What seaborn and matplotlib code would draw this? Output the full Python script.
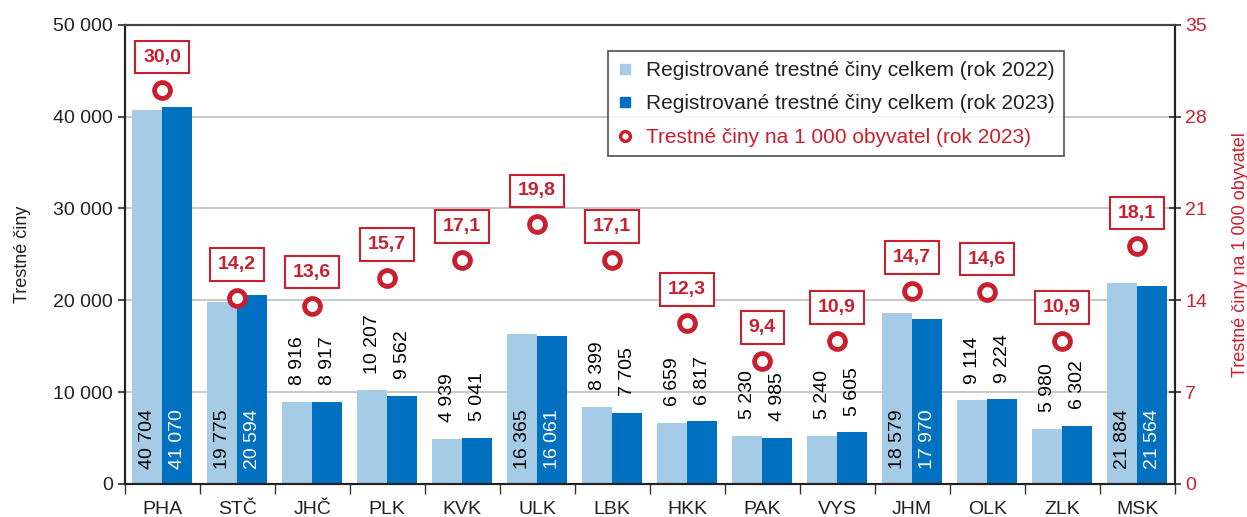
import matplotlib
matplotlib.use("Agg")
import matplotlib.pyplot as plt
from matplotlib.lines import Line2D
from matplotlib.ticker import FuncFormatter, FixedLocator
import numpy as np
import pandas as pd
import seaborn as sns

regions = ['PHA', 'STČ', 'JHČ', 'PLK', 'KVK', 'ULK', 'LBK', 'HKK', 'PAK', 'VYS', 'JHM', 'OLK', 'ZLK', 'MSK']
crimes_2022 = [40704, 19775, 8916, 10207, 4939, 16365, 8399, 6659, 5230, 5240, 18579, 9114, 5980, 21884]
crimes_2023 = [41070, 20594, 8917, 9562, 5041, 16061, 7705, 6817, 4985, 5605, 17970, 9224, 6302, 21564]
rate_2023 = [30.0, 14.2, 13.6, 15.7, 17.1, 19.8, 17.1, 12.3, 9.4, 10.9, 14.7, 14.6, 10.9, 18.1]
series_names = ['Registrované trestné činy celkem (rok 2022)',
                'Registrované trestné činy celkem (rok 2023)',
                'Trestné činy na 1 000 obyvatel (rok 2023)']

LIGHT = '#A6CBE6'
DARK = '#0070C0'
RED = '#C8202F'
TXT = '#222222'
FS = 14

sns.set_theme(style='white')
plt.rcParams['font.family'] = ['Liberation Sans', 'DejaVu Sans']

df = pd.DataFrame({
    'region': regions * 2,
    'value': crimes_2022 + crimes_2023,
    'year': ['2022'] * len(regions) + ['2023'] * len(regions),
})

fig = plt.figure(figsize=(12.47, 5.17), dpi=100)
ax = fig.add_axes([0.100, 0.064, 0.842, 0.888])

sns.barplot(data=df, x='region', y='value', hue='year', palette=[LIGHT, DARK],
            saturation=1, width=0.8, gap=0, ax=ax, legend=False, edgecolor='none')

ax.set_ylim(0, 50000)
ax.set_xlim(-0.5, len(regions) - 0.5)
ax.yaxis.set_major_locator(FixedLocator([0, 10000, 20000, 30000, 40000, 50000]))
ax.yaxis.set_major_formatter(FuncFormatter(lambda v, p: f"{int(v):,}".replace(',', ' ')))
ax.grid(axis='y', color='#BFBFBF', linewidth=1.2)
ax.set_axisbelow(True)
ax.set_xlabel('')
ax.set_ylabel('Trestné činy', fontsize=13, color=TXT, labelpad=16)
ax.tick_params(axis='y', labelsize=FS, labelcolor=TXT, direction='out', length=5, color='#333333', left=True)
ax.tick_params(axis='x', which='major', length=0, labelsize=FS, labelcolor=TXT, pad=12)
ax.set_xticks(np.arange(-0.5, len(regions), 1.0), minor=True)
ax.tick_params(axis='x', which='minor', length=7, color='#333333', direction='out', bottom=True)
for s in ['left', 'bottom', 'right']:
    ax.spines[s].set_color('#222222')
    ax.spines[s].set_linewidth(1.5)
ax.spines['top'].set_color('#444444')
ax.spines['top'].set_linewidth(1.5)

# value labels on bars
for ci, cont in enumerate(ax.containers):
    for patch in cont.patches:
        h = patch.get_height()
        xc = patch.get_x() + patch.get_width() / 2
        label = f"{int(round(h)):,}".replace(',', ' ')
        if h > 15000:
            ax.annotate(label, (xc, 0), xytext=(0, 11), textcoords='offset points',
                        rotation=90, ha='center', va='bottom', fontsize=FS,
                        color='white' if ci == 1 else 'black')
        else:
            ax.annotate(label, (xc, h), xytext=(0, 12), textcoords='offset points',
                        rotation=90, ha='center', va='bottom', fontsize=FS, color='black')

ax2 = ax.twinx()
ax2.set_ylim(0, 35)
ax2.set_yticks([0, 7, 14, 21, 28, 35])
sns.scatterplot(x=np.arange(len(regions)), y=rate_2023, ax=ax2, s=130, marker='o',
                facecolor='white', edgecolor=RED, linewidth=3.5, zorder=5, legend=False)
for i, r in enumerate(rate_2023):
    ax2.annotate(f"{r:.1f}".replace('.', ','), (i, r), xytext=(0, 24), textcoords='offset points',
                 ha='center', va='center', fontsize=FS, color=RED, fontweight='bold',
                 bbox=dict(boxstyle='square,pad=0.4', fc='white', ec=RED, lw=1.5), zorder=6)
ax2.set_ylabel('Trestné činy na 1 000 obyvatel', fontsize=13, color=RED, labelpad=18)
ax2.tick_params(axis='y', labelsize=FS, labelcolor=RED, direction='inout', length=8, color='#333333', right=True)
ax2.set_xlim(-0.5, len(regions) - 0.5)
for s in ['left', 'bottom', 'right']:
    ax2.spines[s].set_color('#222222')
    ax2.spines[s].set_linewidth(1.5)
ax2.spines['top'].set_color('#444444')
ax2.spines['top'].set_linewidth(1.5)

handles = [
    Line2D([], [], linestyle='none', marker='s', markersize=7, markerfacecolor=LIGHT, markeredgecolor=LIGHT),
    Line2D([], [], linestyle='none', marker='s', markersize=7, markerfacecolor=DARK, markeredgecolor=DARK),
    Line2D([], [], linestyle='none', marker='o', markersize=7, markerfacecolor='white',
           markeredgecolor=RED, markeredgewidth=2.5),
]
leg = ax2.legend(handles, series_names, loc='upper left', bbox_to_anchor=(0.46, 0.942),
                 fontsize=15, frameon=True, fancybox=False, edgecolor='#222222',
                 handlelength=0.8, handletextpad=0.6, borderpad=0.45, labelspacing=0.7,
                 borderaxespad=0)
leg.get_frame().set_linewidth(1.2)
leg.set_zorder(10)
for t, c in zip(leg.get_texts(), [TXT, TXT, RED]):
    t.set_color(c)

fig.savefig('out.png', dpi=100)
